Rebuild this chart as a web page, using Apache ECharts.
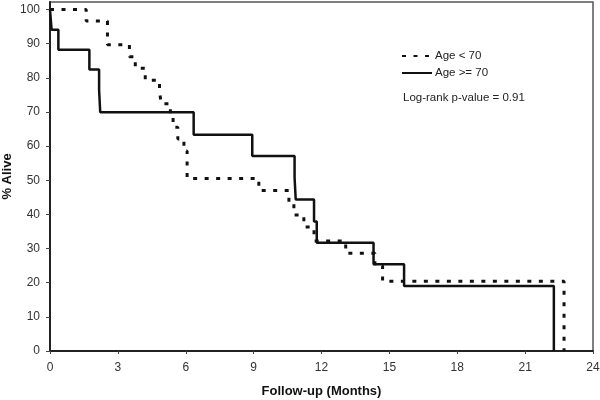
<!DOCTYPE html>
<html>
<head>
<meta charset="utf-8">
<script src="https://cdn.jsdelivr.net/npm/echarts@6/dist/echarts.min.js"></script>
<style>html,body{margin:0;padding:0;background:#fff;}#c{width:600px;height:400px;}</style>
</head>
<body>
<div id="c"></div>
<script>
// Follow-up time (months) at each step, and % alive after that step
const youngTimes = [0, 1.6, 2.54, 3.51, 3.77, 4.21, 4.84, 4.92, 5.32, 5.44, 5.65, 5.92, 6.06, 9.23, 10.56, 10.78, 11.22, 11.67, 13.07, 14.36, 14.7, 22.72];
const youngAlive = [100, 96.6, 89.7, 86.2, 82.8, 79.3, 75.9, 72.4, 69.0, 65.5, 62.1, 58.6, 50.5, 47.0, 43.4, 39.8, 36.3, 32.2, 28.6, 25.0, 20.4, 0];
const oldTimes = [0, 0.07, 0.37, 1.74, 2.17, 2.22, 6.35, 8.94, 10.81, 10.86, 11.67, 11.79, 14.3, 15.65, 22.27];
const oldAlive = [100, 94.1, 88.2, 82.4, 76.5, 69.9, 63.3, 57.1, 50.8, 44.4, 37.9, 31.7, 25.4, 19.0, 0];
const xTicks = [0, 3, 6, 9, 12, 15, 18, 21, 24];
const yTicks = [0, 10, 20, 30, 40, 50, 60, 70, 80, 90, 100];
const seriesNames = ['Age < 70', 'Age >= 70'];
const pValueText = 'Log-rank p-value = 0.91';

const pair = (xs, ys) => xs.map((x, i) => [x, ys[i]]);
const font = '"Liberation Sans", Arial, sans-serif';

const chart = echarts.init(document.getElementById('c'), null, {renderer: 'canvas'});
chart.setOption({
  animation: false,
  backgroundColor: '#fff',
  grid: {left: 50, right: 7, top: 2, bottom: 49, containLabel: false, outerBoundsMode: 'none',
    show: true, borderColor: '#555', borderWidth: 1.5, backgroundColor: 'transparent'},
  title: {
    text: pValueText, left: 403, top: 92, padding: 0,
    textStyle: {fontFamily: font, fontSize: 11.5, fontWeight: 'normal', color: '#222'}
  },
  legend: {
    orient: 'vertical', left: 401, top: 50, padding: 0, itemWidth: 30, itemHeight: 14, itemGap: 5,
    data: seriesNames,
    itemStyle: {opacity: 0},
    textStyle: {fontFamily: font, fontSize: 11.5, color: '#222', padding: [0, 0, 0, -2]}
  },
  xAxis: {
    type: 'value', min: xTicks[0], max: xTicks[xTicks.length - 1], interval: 3,
    name: 'Follow-up (Months)', nameLocation: 'middle', nameGap: 34,
    nameTextStyle: {fontFamily: font, fontSize: 13, fontWeight: 'bold', color: '#111'},
    axisLine: {show: true, lineStyle: {color: '#222', width: 2}},
    axisTick: {show: true, length: 3, lineStyle: {color: '#444'}},
    axisLabel: {fontFamily: font, fontSize: 12, color: '#333', margin: 11},
    splitLine: {show: false}
  },
  yAxis: {
    type: 'value', min: yTicks[0], max: 102.2, interval: 10,
    name: '% Alive', nameLocation: 'middle', nameGap: 36, nameRotate: 90, nameMoveOverlap: false,
    nameTextStyle: {fontFamily: font, fontSize: 13, fontWeight: 'bold', color: '#111'},
    axisLine: {show: true, lineStyle: {color: '#222', width: 2}},
    axisTick: {show: true, length: 4, lineStyle: {color: '#444'}},
    axisLabel: {fontFamily: font, fontSize: 12, color: '#333', margin: 10, showMaxLabel: false,
      formatter: v => (yTicks.indexOf(v) >= 0 ? String(v) : '')},
    splitLine: {show: false}
  },
  series: [
    {
      name: seriesNames[0], type: 'line', step: 'end', symbol: 'none',
      data: pair(youngTimes, youngAlive),
      lineStyle: {color: '#111', width: 3, type: [4, 7.5]},
      itemStyle: {color: '#111'}
    },
    {
      name: seriesNames[1], type: 'line', step: 'end', symbol: 'none',
      data: pair(oldTimes, oldAlive),
      lineStyle: {color: '#111', width: 2.5, type: 'solid'},
      itemStyle: {color: '#111'}
    }
  ]
});
</script>
</body>
</html>
